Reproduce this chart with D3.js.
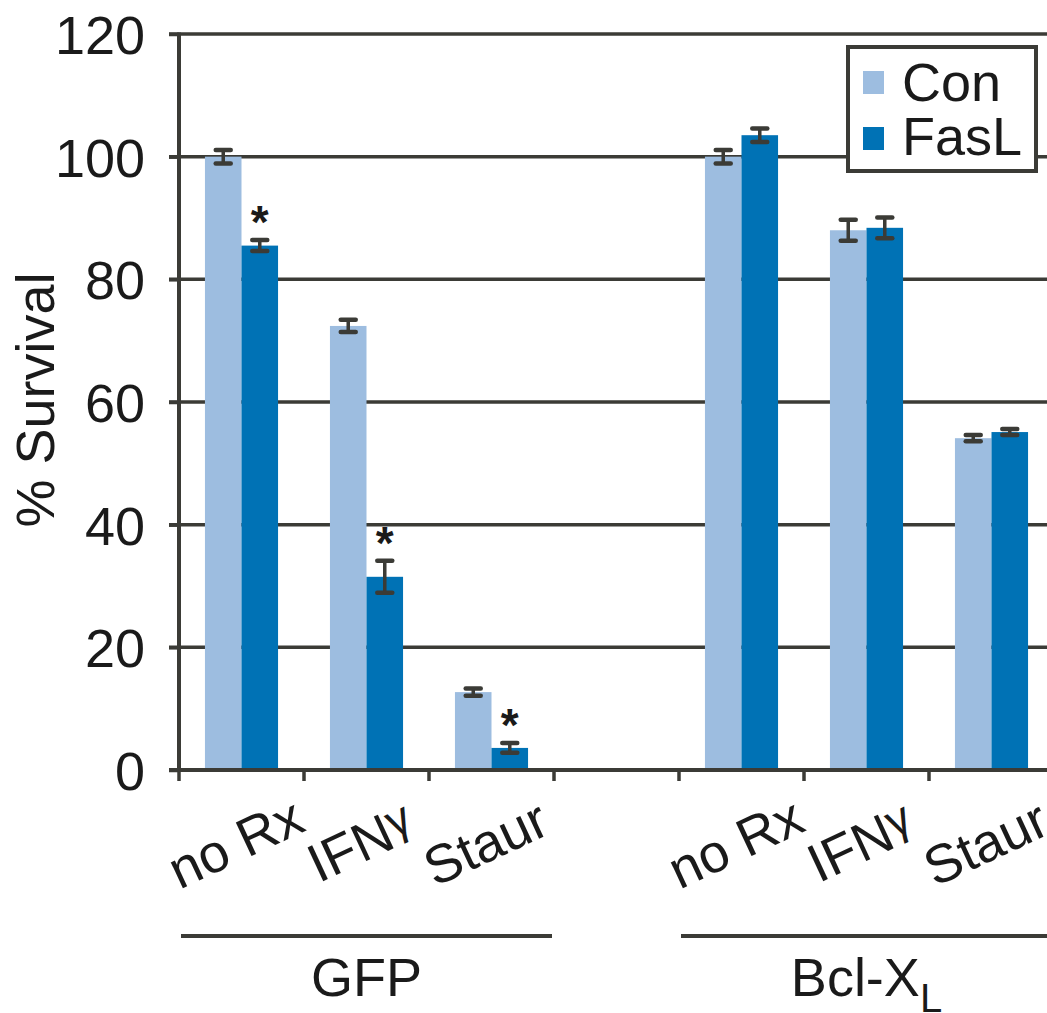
<!DOCTYPE html>
<html><head><meta charset="utf-8">
<script src="https://cdn.jsdelivr.net/npm/d3@7"></script>
<style>
html,body{margin:0;padding:0;background:#fff;overflow:hidden}
text{font-family:"Liberation Sans",Arial,sans-serif;fill:#1a1a1a}
</style></head>
<body>
<svg id="chart" width="1047" height="1013"></svg>
<script>
// ---- data ----
const groups = ["GFP", "Bcl-X"];
const treatments = ["no Rx", "IFNγ", "Staur"];
const series = ["Con", "FasL"];
const slots = ["GFP|no Rx","GFP|IFNγ","GFP|Staur","gap","Bcl-X|no Rx","Bcl-X|IFNγ","Bcl-X|Staur","end"];
const conValues  = [100.0, 72.4, 12.7, 100.0, 88.0, 54.1];
const conErrors  = [1.1, 1.0, 0.6, 1.1, 1.7, 0.5];
const faslValues = [85.5, 31.5, 3.6, 103.5, 88.4, 55.1];
const faslErrors = [0.9, 2.6, 0.8, 1.1, 1.7, 0.5];
const faslSig    = [true, true, true, false, false, false];
const yTicks = [0, 20, 40, 60, 80, 100, 120];
const colors = {Con: "#9dbde0", FasL: "#0072b5"};

const ink = "#3b3b36";
const svg = d3.select("#chart");

const y = d3.scaleLinear().domain([0, 120]).range([770, 34]);
const x = d3.scaleBand().domain(slots).range([179, 1179]).paddingInner(0).paddingOuter(0);
const xs = d3.scaleBand().domain(series).range([0, x.bandwidth()]).paddingOuter(0.71).paddingInner(0);

// build rows
const rows = [];
groups.forEach((g, gi) => treatments.forEach((t, ti) => {
  const i = gi * 3 + ti;
  rows.push({slot: g + "|" + t, t, series: "Con", v: conValues[i], e: conErrors[i], sig: false});
  rows.push({slot: g + "|" + t, t, series: "FasL", v: faslValues[i], e: faslErrors[i], sig: faslSig[i]});
}));

// gridlines
svg.append("g").selectAll("line").data(yTicks.filter(d => d > 0)).join("line")
  .attr("x1", 169).attr("x2", 1047)
  .attr("y1", d => y(d)).attr("y2", d => y(d))
  .attr("stroke", ink).attr("stroke-width", 3.5);

// bars
svg.append("g").selectAll("rect").data(rows).join("rect")
  .attr("x", d => x(d.slot) + xs(d.series))
  .attr("width", xs.bandwidth())
  .attr("y", d => y(d.v))
  .attr("height", d => y(0) - y(d.v))
  .attr("fill", d => colors[d.series]);

// error bars
const eb = svg.append("g").attr("stroke", ink).attr("stroke-width", 3.5);
rows.forEach(d => {
  const cx = x(d.slot) + xs(d.series) + xs.bandwidth() / 2;
  eb.append("line").attr("x1", cx).attr("x2", cx).attr("y1", y(d.v + d.e)).attr("y2", y(d.v - d.e));
  [d.v + d.e, d.v - d.e].forEach(v => eb.append("line")
    .attr("x1", cx - 7.5).attr("x2", cx + 7.5).attr("y1", y(v)).attr("y2", y(v))
    .attr("stroke-width", 4.5).attr("stroke-linecap", "round"));
});

// asterisks
svg.append("g").selectAll("text").data(rows.filter(d => d.sig)).join("text")
  .attr("x", d => x(d.slot) + xs(d.series) + xs.bandwidth() / 2)
  .attr("y", d => y(d.v + d.e) - 2)
  .attr("text-anchor", "middle").attr("font-size", 46).attr("font-weight", "bold")
  .text("*");

// y axis
const yAxis = svg.append("g").attr("transform", "translate(179,0)")
  .call(d3.axisLeft(y).tickValues(yTicks).tickSize(10).tickPadding(24));
yAxis.select(".domain").remove();
yAxis.selectAll(".tick line").attr("stroke", ink).attr("stroke-width", 3.5);
yAxis.selectAll(".tick text").attr("font-size", 54).attr("fill", "#1a1a1a")
  .attr("font-family", "Liberation Sans, Arial, sans-serif").attr("dy", "0.36em");
svg.append("line").attr("x1", 179).attr("x2", 179).attr("y1", y(120) - 1.5).attr("y2", y(0) + 1.5)
  .attr("stroke", ink).attr("stroke-width", 4);

// x axis
svg.append("line").attr("x1", 169).attr("x2", 1047).attr("y1", y(0)).attr("y2", y(0))
  .attr("stroke", ink).attr("stroke-width", 4);
svg.append("g").selectAll("line").data(slots).join("line")
  .attr("x1", d => x(d)).attr("x2", d => x(d)).attr("y1", y(0)).attr("y2", y(0) + 11)
  .attr("stroke", ink).attr("stroke-width", 3.5);

// category labels
const catRows = rows.filter(d => d.series === "Con");
const cl = svg.append("g").selectAll("text").data(catRows).join("text")
  .attr("text-anchor", "middle").attr("font-size", 54)
  .attr("transform", d => `translate(${x(d.slot) + x.bandwidth() / 2 + 2},860) rotate(-25)`);
cl.each(function(d) {
  const t = d3.select(this);
  if (d.t === "IFNγ") {
    t.append("tspan").text("IFN");
    t.append("tspan").attr("dy", -9).attr("font-size", 46).text("γ");
  } else t.text(d.t);
});

// group lines & labels
groups.forEach((g, gi) => {
  const first = x(g + "|no Rx"), last = x(g + "|Staur") + x.bandwidth();
  svg.append("line").attr("x1", first + 2).attr("x2", last - 2).attr("y1", 936).attr("y2", 936)
    .attr("stroke", ink).attr("stroke-width", 4);
  const t = svg.append("text").attr("x", (first + last) / 2).attr("y", 996)
    .attr("text-anchor", "middle").attr("font-size", 54);
  t.append("tspan").text(g);
  if (g === "Bcl-X") t.append("tspan").attr("dy", 16).attr("font-size", 40).text("L");
});

// y axis title
svg.append("text").attr("transform", "translate(54,400) rotate(-90)")
  .attr("text-anchor", "middle").attr("font-size", 54).text("% Survival");

// legend
const lg = svg.append("g");
lg.append("rect").attr("x", 848).attr("y", 47).attr("width", 188).attr("height", 124)
  .attr("fill", "#fff").attr("stroke", ink).attr("stroke-width", 4);
series.forEach((s, i) => {
  lg.append("rect").attr("x", 863).attr("y", 71 + i * 56).attr("width", 21).attr("height", 23).attr("fill", colors[s]);
  lg.append("text").attr("x", 902).attr("y", 101 + i * 54).attr("font-size", 54).text(s);
});
</script>
</body></html>
